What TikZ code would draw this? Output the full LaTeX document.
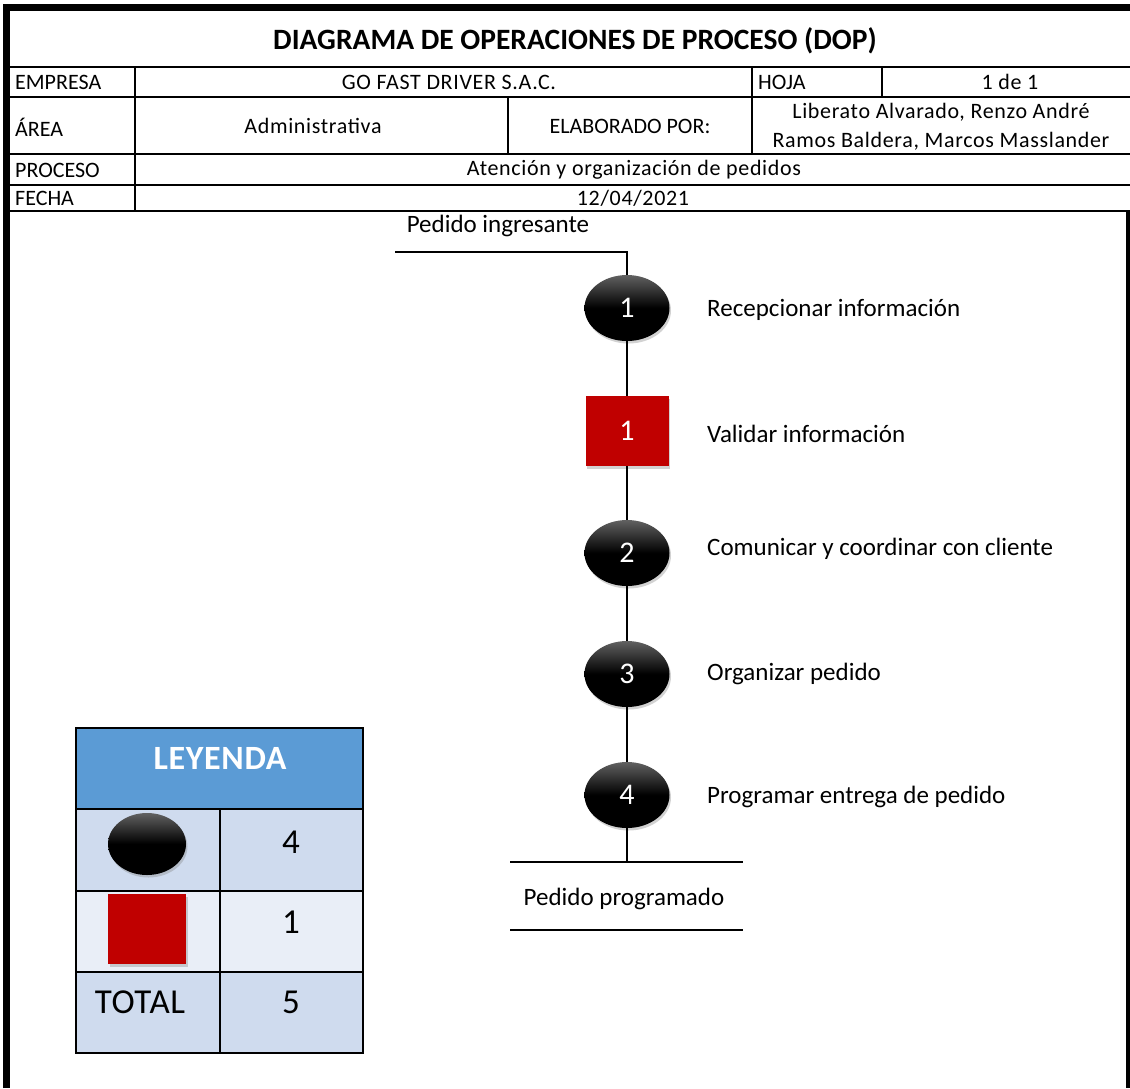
\documentclass[tikz,border=0pt]{standalone}
\usepackage{fontspec}
\setmainfont{Carlito}
\newfontfamily\spfont[LetterSpace=3]{Carlito}
\newfontfamily\legfont[LetterSpace=2]{Carlito}
\usetikzlibrary{shapes.geometric,shadows}
\definecolor{opred}{HTML}{C00000}
\definecolor{legblue}{HTML}{5B9BD5}
\definecolor{legrow}{HTML}{CFDBEE}
\definecolor{legrowlt}{HTML}{E9EEF7}
\begin{document}
\begin{tikzpicture}[x=1pt,y=-1pt,
  hdr/.style={font=\fontsize{22}{24}\selectfont, inner sep=0},
  hdrsp/.style={font=\spfont\fontsize{22}{24}\selectfont, inner sep=0},
  hdrl/.style={hdr, anchor=west},
  lbl/.style={font=\fontsize{25}{28}\selectfont, anchor=west, inner sep=0},
  grid/.style={line width=1.6pt},
  flow/.style={line width=2pt},
  opnode/.style={ellipse, minimum width=85pt, minimum height=66pt, inner sep=0,
    top color=black!62, bottom color=black, middle color=black,
    drop shadow={opacity=0.35, shadow xshift=1.5pt, shadow yshift=-2.5pt},
    text=white, font=\fontsize{30}{32}\selectfont},
  insnode/.style={rectangle, minimum width=83pt, minimum height=70pt, inner sep=0,
    fill=opred, drop shadow={opacity=0.35, shadow xshift=1.5pt, shadow yshift=-2.5pt},
    text=white, font=\fontsize{30}{32}\selectfont},
  legtxt/.style={font=\legfont\fontsize{35}{38}\selectfont, inner sep=0}
]
\useasboundingbox (0,0) rectangle (1130,1088);
\fill[white] (0,0) rectangle (1130,1088);

% ---------- header table ----------
\draw[grid] (6,67) -- (1130,67);
\draw[grid] (6,97) -- (1130,97);
\draw[grid] (6,154) -- (1130,154);
\draw[grid] (6,185) -- (1130,185);
\draw[grid] (6,211) -- (1130,211);
\draw[grid] (135,67) -- (135,211);
\draw[grid] (752,67) -- (752,154);
\draw[grid] (882,67) -- (882,97);
\draw[grid] (508,97) -- (508,154);
% outer thick frame
\draw[line width=7pt] (6.5,1088) -- (6.5,7) -- (1130,7);
\draw[line width=5pt] (1128,211) -- (1128,1088);

\node[font=\fontsize{29.5}{32}\selectfont\bfseries, inner sep=0] (title) at (575,41) {DIAGRAMA DE OPERACIONES DE PROCESO (DOP)};
\node[hdrl] (hempresa) at (15,82) {EMPRESA};
\node[hdrsp] (vempresa) at (449,82) {GO FAST DRIVER S.A.C.};
\node[hdrl] (hhoja) at (758,82) {HOJA};
\node[hdrsp] (vhoja) at (1010,82) {1 de 1};
\node[hdrl] (harea) at (15,127) {ÁREA};
\node[hdrsp] (varea) at (313,126) {Administrativa};
\node[hdr] (helab) at (630,126) {ELABORADO POR:};
\node[hdrsp] (velab1) at (941,112) {Liberato Alvarado, Renzo André};
\node[hdrsp] (velab2) at (941,141) {Ramos Baldera, Marcos Masslander};
\node[hdrl] (hproceso) at (15,170) {PROCESO};
\node[hdrsp] (vproceso) at (634,170) {Atención y organización de pedidos};
\node[hdrl] (hfecha) at (15,198) {FECHA};
\node[hdrsp] (vfecha) at (633,198) {12/04/2021};

% ---------- flow ----------
\node[font=\fontsize{25}{28}\selectfont, inner sep=0] (pin) at (498,226) {Pedido ingresante};
\coordinate (instart) at (395,252);
\coordinate (incorner) at (627,252);
\node[opnode] (op1) at (627,308) {1};
\node[insnode] (in1) at (627,431) {1};
\node[opnode] (op2) at (627,553) {2};
\node[opnode] (op3) at (627,674) {3};
\node[opnode] (op4) at (627,795) {4};
\coordinate (outend) at (627,862);
\coordinate (outl) at (510,862);
\coordinate (outr) at (743,862);
\coordinate (outl2) at (510,930);
\coordinate (outr2) at (743,930);
\node[font=\fontsize{25}{28}\selectfont, inner sep=0] (pout) at (624,899) {Pedido programado};

\draw[flow] (instart) -- (incorner) -- (op1.north);
\draw[flow] (op1.south) -- (in1.north);
\draw[flow] (in1.south) -- (op2.north);
\draw[flow] (op2.south) -- (op3.north);
\draw[flow] (op3.south) -- (op4.north);
\draw[flow] (op4.south) -- (outend);
\draw[flow] (outl) -- (outr);
\draw[flow] (outl2) -- (outr2);

\node[lbl] (l1) at (707,310) {Recepcionar información};
\node[lbl] (l2) at (707,434) {Validar información};
\node[lbl] (l3) at (707,549) {Comunicar y coordinar con cliente};
\node[lbl] (l4) at (707,674) {Organizar pedido};
\node[lbl] (l5) at (707,797) {Programar entrega de pedido};

% ---------- legend ----------
\fill[legblue] (76,728) rectangle (363,809);
\fill[legrow] (76,809) rectangle (363,891);
\fill[legrowlt] (76,891) rectangle (363,972);
\fill[legrow] (76,972) rectangle (363,1053);
\draw[grid] (76,728) rectangle (363,1053);
\draw[grid] (76,809) -- (363,809);
\draw[grid] (76,891) -- (363,891);
\draw[grid] (76,972) -- (363,972);
\draw[grid] (220,809) -- (220,1053);
\node[legtxt, font=\legfont\fontsize{34}{36}\selectfont\bfseries, text=white] (leyenda) at (220,758) {LEYENDA};
\node[opnode, minimum width=78pt, minimum height=62pt] (legop) at (147,844) {};
\node[insnode, minimum width=78pt, minimum height=70pt] (legins) at (147,929) {};
\node[legtxt] (legn1) at (291,842) {4};
\node[legtxt] (legn2) at (291,922) {1};
\node[legtxt] (legtot) at (140,1002) {TOTAL};
\node[legtxt] (legn3) at (291,1002) {5};
\end{tikzpicture}
\end{document}
